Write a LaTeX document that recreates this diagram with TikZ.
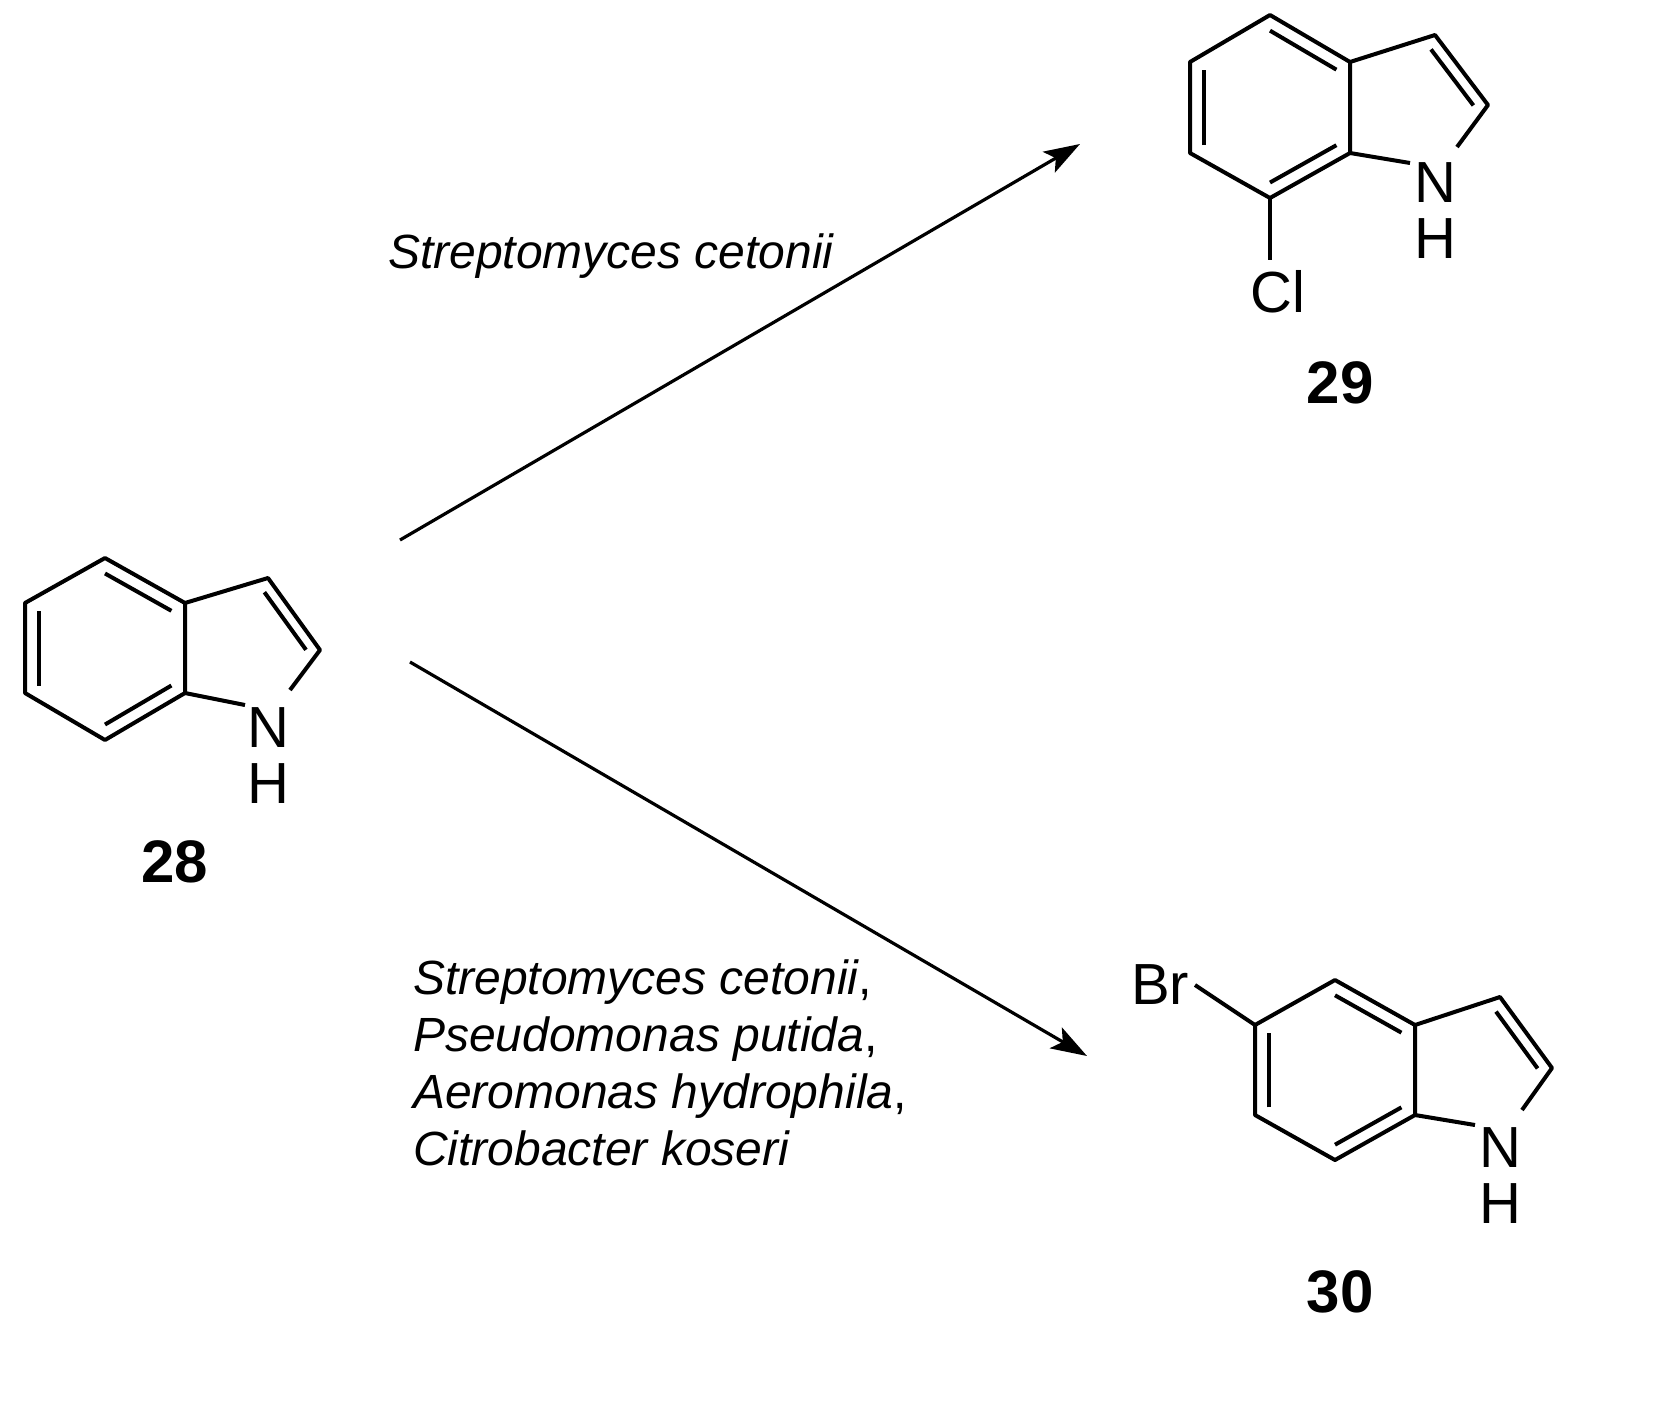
\documentclass[tikz,border=0pt]{standalone}
\usepackage{fontspec}
\setmainfont{Liberation Sans}
\usetikzlibrary{calc,arrows.meta}
\begin{document}
\begin{tikzpicture}[x=1pt,y=-1pt,
  bond/.style={line width=4pt,line join=round},
  atom/.style={font=\fontsize{58}{58}\selectfont,inner sep=0pt},
  num/.style={font=\fontsize{60}{60}\selectfont\bfseries,inner sep=0pt},
  cond/.style={font=\fontsize{48}{57}\selectfont,inner sep=0pt,anchor=west,align=left},
  arr/.style={line width=3.2pt,-{Stealth[length=36pt,width=24pt,inset=8pt]}}]
\useasboundingbox (0,0) rectangle (1660,1409);
\newcommand{\dbl}[4]{\draw[bond] ($(#1)!#4!(#3)$) -- ($(#2)!#4!(#3)$);}
% ---------- 28 ----------
\coordinate (a1) at (105,558); \coordinate (a2) at (185,603); \coordinate (a3) at (185,693);
\coordinate (a4) at (105,740); \coordinate (a5) at (25,693); \coordinate (a6) at (25,603);
\coordinate (a7) at (268,578); \coordinate (a8) at (320,650);
\coordinate (ac) at (105,649); \coordinate (ap) at (250,649);
\draw[bond] (a1)--(a2)--(a3)--(a4)--(a5)--(a6)--cycle;
\draw[bond] (a2)--(a7)--(a8)--(290,690);
\draw[bond] (245,705)--(a3);
\dbl{a1}{a2}{ac}{0.17}\dbl{a3}{a4}{ac}{0.17}\dbl{a5}{a6}{ac}{0.17}
\dbl{a7}{a8}{ap}{0.2}
\node[atom] (N28) at (268,728) {N};
\node[atom] (H28) at (268,784) {H};
\node[num] (L28) at (175,862) {28};
% ---------- 29 ----------
\coordinate (b1) at (1270,15); \coordinate (b2) at (1350,62); \coordinate (b3) at (1350,153);
\coordinate (b4) at (1270,198); \coordinate (b5) at (1190,153); \coordinate (b6) at (1190,62);
\coordinate (b7) at (1435,35); \coordinate (b8) at (1488,105); \coordinate (bc) at (1270,107); \coordinate (bp) at (1415,107);
\draw[bond] (b1)--(b2)--(b3)--(b4)--(b5)--(b6)--cycle;
\draw[bond] (b2)--(b7)--(b8)--(1457,147);
\draw[bond] (1410,163)--(b3);
\draw[bond] (b4)--(1270,260);
\dbl{b1}{b2}{bc}{0.17}\dbl{b3}{b4}{bc}{0.17}\dbl{b5}{b6}{bc}{0.17}
\dbl{b7}{b8}{bp}{0.2}
\node[atom] (N29) at (1435,183) {N};
\node[atom] (H29) at (1435,239) {H};
\node[atom] (Cl) at (1278,292) {Cl};
\node[num] (L29) at (1340,383) {29};
% ---------- 30 ----------
\coordinate (c1) at (1335,980); \coordinate (c2) at (1415,1025); \coordinate (c3) at (1415,1115);
\coordinate (c4) at (1335,1160); \coordinate (c5) at (1255,1115); \coordinate (c6) at (1255,1025);
\coordinate (c7) at (1500,997); \coordinate (c8) at (1552,1068); \coordinate (cc) at (1335,1070); \coordinate (cp) at (1480,1070);
\draw[bond] (c1)--(c2)--(c3)--(c4)--(c5)--(c6)--cycle;
\draw[bond] (c2)--(c7)--(c8)--(1522,1110);
\draw[bond] (1475,1125)--(c3);
\draw[bond] (c6)--(1195,985);
\dbl{c1}{c2}{cc}{0.17}\dbl{c3}{c4}{cc}{0.17}\dbl{c5}{c6}{cc}{0.17}
\dbl{c7}{c8}{cp}{0.2}
\node[atom] (N30) at (1500,1148) {N};
\node[atom] (H30) at (1500,1204) {H};
\node[atom] (Br) at (1160,985) {Br};
\node[num] (L30) at (1340,1292) {30};
% ---------- arrows ----------
\coordinate (s1) at (400,540); \coordinate (e1) at (1080,144);
\coordinate (s2) at (410,662); \coordinate (e2) at (1087,1056);
\draw[arr] (s1)--(e1);
\draw[arr] (s2)--(e2);
\node[cond] (t1) at (388,256) {\itshape Streptomyces cetonii};
\node[cond,anchor=north west] (t2) at (413,960) {\itshape Streptomyces cetonii\upshape,\\ \itshape Pseudomonas putida\upshape,\\ \itshape Aeromonas hydrophila\upshape,\\ \itshape Citrobacter koseri};
\end{tikzpicture}
\end{document}
